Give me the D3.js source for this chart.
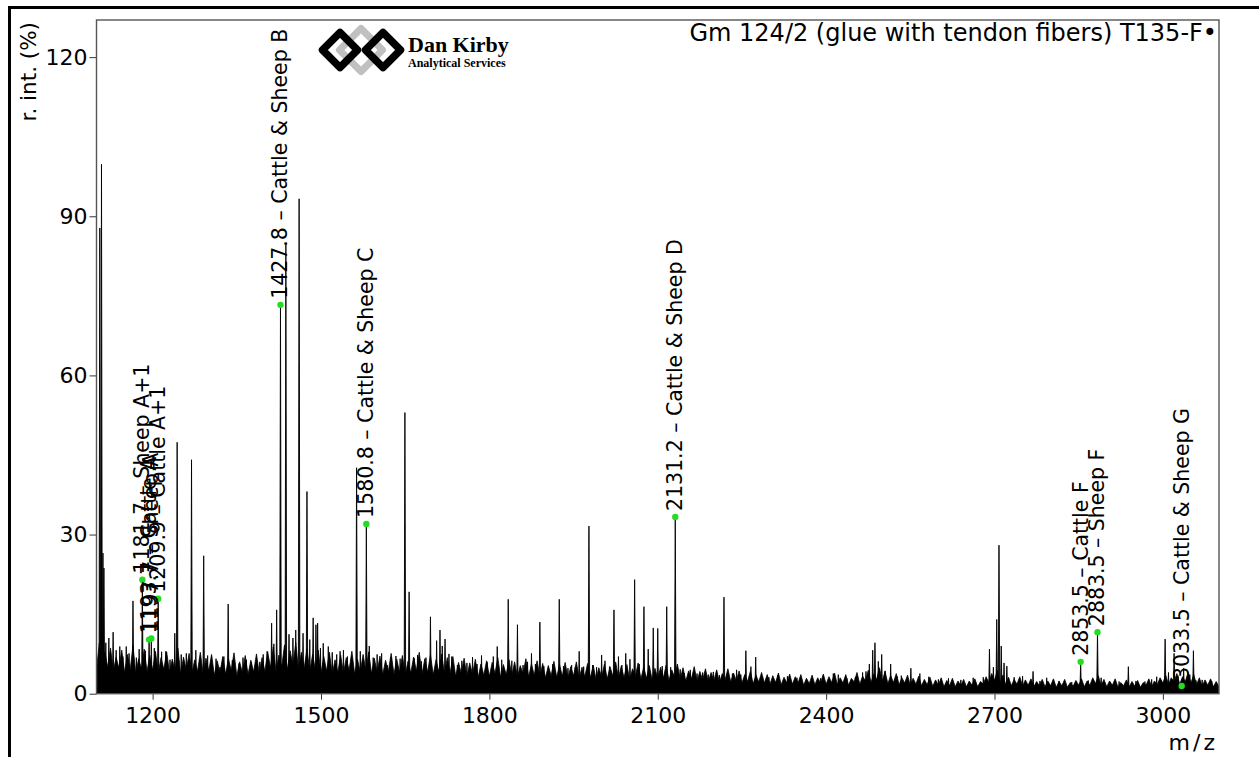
<!DOCTYPE html>
<html>
<head>
<meta charset="utf-8">
<script src="https://cdn.jsdelivr.net/npm/d3@7"></script>
<style>
  body { margin: 0; background: #fff; }
  svg { display: block; font-family: "DejaVu Sans", sans-serif; }
</style>
</head>
<body>
<div id="chart"></div>
<script>
// spectrum: [m/z, relative intensity %]
var peaks = [
    [1105.9, 87.8], [1108.9, 99.8], [1111.5, 26.5], [1113.2, 23.7], [1116.6, 9.6],
    [1122.0, 10.5], [1129.6, 11.6], [1135.0, 8.2], [1141.5, 8.9], [1147.0, 7.0],
    [1153.0, 8.9], [1158.0, 7.6], [1165.0, 17.5], [1171.0, 6.8], [1176.0, 8.4],
    [1181.7, 21.5], [1187.0, 8.1], [1193.7, 10.2], [1197.7, 10.4], [1203.0, 8.6],
    [1209.9, 17.9], [1216.0, 7.9], [1223.5, 8.0], [1231.0, 6.4], [1239.5, 11.4],
    [1243.7, 47.4], [1251.0, 7.4], [1260.0, 7.6], [1269.3, 44.1], [1277.0, 8.2],
    [1284.0, 6.4], [1291.0, 26.0], [1298.0, 7.2], [1305.0, 7.0], [1313.0, 6.6],
    [1320.0, 5.0], [1327.0, 7.0], [1334.6, 16.9], [1342.0, 6.3], [1354.0, 5.7],
    [1361.0, 6.8], [1367.0, 6.4], [1376.0, 5.9], [1385.0, 6.8], [1391.0, 6.0],
    [1397.0, 7.4], [1404.0, 8.0], [1412.0, 13.3], [1416.0, 9.4], [1421.0, 15.8],
    [1427.8, 73.3], [1437.4, 85.0], [1443.0, 11.2], [1450.0, 10.5], [1455.0, 12.0],
    [1461.0, 93.3], [1468.0, 11.4], [1475.0, 38.1], [1480.0, 10.2], [1486.0, 14.3],
    [1491.0, 13.0], [1494.0, 13.3], [1499.0, 8.6], [1504.0, 9.5], [1513.0, 8.9],
    [1520.0, 7.8], [1528.0, 7.4], [1534.0, 8.0], [1540.0, 8.2], [1547.0, 7.0],
    [1554.5, 7.0], [1563.4, 42.6], [1570.0, 8.0], [1580.8, 32.0], [1586.0, 9.0],
    [1593.0, 6.8], [1600.0, 7.4], [1608.0, 7.6], [1618.0, 5.4], [1625.0, 6.9],
    [1633.5, 7.1], [1641.0, 6.6], [1649.5, 53.0], [1657.0, 19.2], [1666.0, 6.7],
    [1672.0, 7.3], [1679.0, 6.1], [1687.0, 6.8], [1695.0, 14.5], [1706.0, 10.0],
    [1712.0, 12.0], [1716.0, 9.0], [1721.0, 10.3], [1728.0, 7.5], [1733.0, 7.0],
    [1743.0, 5.4], [1751.0, 6.2], [1760.0, 5.8], [1770.0, 6.9], [1778.0, 5.6],
    [1786.0, 7.2], [1796.0, 6.0], [1807.0, 7.0], [1814.0, 8.9], [1822.0, 6.4],
    [1833.6, 17.8], [1840.0, 6.2], [1850.0, 13.0], [1860.0, 5.4], [1868.0, 6.0],
    [1875.0, 7.6], [1882.0, 5.6], [1890.0, 13.5], [1897.0, 5.2], [1905.0, 4.3],
    [1913.0, 5.6], [1924.5, 17.8], [1932.0, 5.2], [1940.0, 4.8], [1946.5, 5.4],
    [1953.0, 5.0], [1960.0, 8.0], [1968.0, 5.1], [1977.4, 31.6], [1984.0, 5.4],
    [1991.0, 5.0], [2000.0, 7.3], [2006.0, 6.2], [2014.0, 5.1], [2022.0, 15.8],
    [2030.0, 7.0], [2036.0, 5.4], [2043.0, 7.6], [2050.5, 6.5], [2058.8, 21.5],
    [2067.0, 5.6], [2075.4, 16.4], [2083.0, 8.4], [2092.0, 12.4], [2100.0, 12.3],
    [2108.0, 5.2], [2116.0, 16.4], [2123.0, 5.0], [2131.2, 33.3], [2140.0, 4.6],
    [2147.0, 3.9], [2158.0, 4.5], [2170.0, 3.8], [2180.0, 4.0], [2190.0, 3.6],
    [2199.0, 4.1], [2210.0, 3.5], [2218.0, 18.2], [2226.0, 3.3], [2233.0, 3.8],
    [2240.5, 4.5], [2248.0, 3.6], [2257.0, 8.1], [2266.0, 5.1], [2274.5, 6.9],
    [2285.0, 3.3], [2298.0, 3.1], [2314.0, 3.5], [2331.0, 3.3], [2348.0, 3.0],
    [2365.0, 2.8], [2390.0, 2.9], [2412.8, 3.8], [2421.7, 3.6], [2437.0, 2.9],
    [2452.0, 3.1], [2465.0, 4.0], [2471.0, 4.2], [2477.0, 5.6], [2483.0, 8.2],
    [2487.0, 9.6], [2493.0, 6.1], [2499.0, 7.4], [2505.0, 4.3], [2515.0, 5.6],
    [2527.0, 3.2], [2534.0, 3.4], [2551.0, 4.8], [2567.0, 3.8], [2583.0, 3.2],
    [2600.0, 2.7], [2618.0, 2.9], [2640.0, 2.6], [2662.0, 3.0], [2680.0, 3.1],
    [2691.0, 8.4], [2698.0, 5.0], [2704.0, 14.0], [2708.0, 28.0], [2712.0, 9.0],
    [2717.0, 5.8], [2722.0, 5.2], [2735.0, 3.1], [2750.0, 3.3], [2768.7, 4.2],
    [2781.0, 2.4], [2793.0, 3.0], [2815.0, 2.4], [2837.6, 2.2], [2853.5, 6.0],
    [2867.0, 2.5], [2876.0, 2.6], [2883.5, 11.6], [2890.0, 3.0], [2905.9, 2.1],
    [2922.0, 2.3], [2938.5, 5.1], [2952.0, 2.4], [2968.0, 2.3], [2980.0, 2.7],
    [2989.0, 3.2], [3004.0, 10.3], [3010.0, 4.0], [3020.0, 7.6], [3027.0, 3.4],
    [3037.0, 4.8], [3041.0, 2.3], [3048.0, 3.6], [3054.4, 8.1], [3059.0, 2.5],
    [3070.0, 2.6], [3087.0, 2.4]
];

// noise band: spike tops at 1105, 1115 ... 3095 and floor at 1100, 1110 ... 3100
var noiseStart = 1100;
var noiseStep = 10;
var noiseTop = [
    9.5, 7.8, 8.6, 6.9, 8.2, 7.4, 9.1, 6.6, 8.4, 7.2,
    8.0, 6.8, 7.9, 6.5, 8.6, 6.9, 7.6, 6.4, 7.8, 6.7,
    7.4, 6.2, 7.0, 6.6, 7.7, 6.0, 7.2, 6.3, 7.5, 6.8,
    7.9, 8.8, 7.3, 9.2, 8.1, 9.6, 7.8, 8.5, 7.4, 8.2,
    7.0, 7.8, 6.4, 7.3, 6.8, 8.0, 6.5, 7.4, 7.9, 6.7,
    7.1, 6.3, 7.6, 6.5, 7.2, 6.1, 6.9, 7.8, 6.6, 7.3,
    6.4, 7.5, 6.8, 7.0, 5.9, 6.7, 5.8, 6.5, 5.6, 6.2,
    5.9, 6.8, 5.5, 6.4, 6.0, 5.3, 6.6, 5.6, 6.2, 5.7,
    5.3, 6.1, 5.5, 5.9, 5.1, 6.0, 5.0, 5.7, 5.4, 4.9,
    5.6, 5.1, 6.0, 5.2, 5.5, 4.7, 5.8, 5.0, 5.3, 4.8,
    5.0, 5.4, 4.5, 5.6, 4.9, 4.3, 5.1, 4.2, 4.7, 4.0,
    4.5, 3.8, 4.7, 3.9, 4.3, 3.6, 4.2, 3.5, 4.0, 3.6,
    3.4, 3.9, 3.1, 3.7, 3.2, 3.6, 2.9, 3.5, 3.0, 3.7,
    3.2, 3.9, 3.0, 3.6, 2.9, 4.0, 3.3, 4.4, 3.7, 4.9,
    4.2, 3.4, 3.8, 3.0, 3.5, 2.9, 3.3, 2.7, 3.1, 2.6,
    3.0, 2.5, 2.9, 2.4, 2.7, 2.4, 2.8, 2.3, 3.2, 3.8,
    4.4, 3.5, 3.1, 2.7, 3.2, 2.6, 2.8, 2.3, 2.7, 2.4,
    2.8, 2.3, 2.7, 2.1, 2.5, 2.8, 2.4, 3.0, 3.4, 2.7,
    2.4, 2.8, 2.1, 2.6, 2.3, 2.5, 2.1, 2.8, 2.4, 3.0,
    3.5, 3.0, 3.8, 3.2, 4.0, 3.6, 3.0, 2.6, 2.8, 2.3
];
var noiseFloor = [
    4.6, 4.1, 5.0, 4.3, 4.8, 4.0, 4.5, 3.8, 4.7, 4.2,
    4.4, 3.9, 4.6, 4.0, 4.3, 3.6, 4.5, 3.9, 4.2, 3.7,
    4.3, 3.5, 4.0, 3.7, 4.4, 3.4, 3.9, 3.6, 4.1, 3.8,
    4.2, 4.9, 4.0, 5.1, 4.5, 5.3, 4.4, 4.8, 4.1, 4.5,
    3.9, 4.3, 3.6, 4.0, 3.8, 4.4, 3.7, 4.1, 4.3, 3.8,
    4.0, 3.6, 4.2, 3.7, 4.0, 3.5, 3.9, 4.3, 3.7, 4.1,
    3.6, 4.1, 3.8, 3.9, 3.3, 3.8, 3.2, 3.6, 3.1, 3.5,
    3.3, 3.8, 3.1, 3.6, 3.4, 3.0, 3.7, 3.2, 3.5, 3.2,
    3.0, 3.4, 3.1, 3.3, 2.9, 3.4, 2.8, 3.2, 3.0, 2.7,
    3.1, 2.8, 3.3, 2.9, 3.0, 2.6, 3.2, 2.8, 2.9, 2.6,
    2.8, 3.0, 2.5, 3.1, 2.7, 2.4, 2.8, 2.3, 2.6, 2.2,
    2.5, 2.1, 2.6, 2.2, 2.4, 2.0, 2.3, 1.9, 2.2, 2.0,
    1.8, 2.1, 1.7, 2.0, 1.8, 2.0, 1.6, 1.9, 1.7, 2.0,
    1.8, 2.1, 1.7, 2.0, 1.6, 2.2, 1.8, 2.4, 2.1, 2.7,
    2.4, 1.9, 2.1, 1.7, 2.0, 1.6, 1.8, 1.5, 1.7, 1.4,
    1.6, 1.3, 1.5, 1.3, 1.5, 1.3, 1.6, 1.3, 1.8, 2.1,
    2.5, 2.0, 1.7, 1.5, 1.8, 1.4, 1.6, 1.3, 1.5, 1.3,
    1.5, 1.2, 1.5, 1.2, 1.4, 1.6, 1.3, 1.6, 1.9, 1.5,
    1.3, 1.6, 1.2, 1.5, 1.3, 1.4, 1.2, 1.6, 1.3, 1.7,
    2.0, 1.7, 2.2, 1.8, 2.3, 2.0, 1.7, 1.4, 1.6, 1.3,
    1.3
];

// marker annotations (green dots)
var markers = [
    { mz: 1181.7, ri: 21.5, text: "1181.7 \u2013 Sheep A+1" },
    { mz: 1193.7, ri: 10.2, text: "1193.7 \u2013 Cattle A" },
    { mz: 1197.7, ri: 10.4, text: "1197.7 \u2013 Sheep A" },
    { mz: 1209.9, ri: 17.9, text: "1209.9 \u2013 Cattle A+1" },
    { mz: 1427.8, ri: 73.3, text: "1427.8 \u2013 Cattle & Sheep B" },
    { mz: 1580.8, ri: 32.0, text: "1580.8 \u2013 Cattle & Sheep C" },
    { mz: 2131.2, ri: 33.3, text: "2131.2 \u2013 Cattle & Sheep D" },
    { mz: 2853.5, ri: 6.0, text: "2853.5 \u2013 Cattle F" },
    { mz: 2883.5, ri: 11.6, text: "2883.5 \u2013 Sheep F" },
    { mz: 3033.5, ri: 1.45, text: "3033.5 \u2013 Cattle & Sheep G" }
];

var xTicks = [1200, 1500, 1800, 2100, 2400, 2700, 3000];
var yTicks = [0, 30, 60, 90, 120];
var title = "Gm 124/2 (glue with tendon fibers) T135-F\u2022";

var W = 1259, H = 757;
var margin = { top: 20, right: 40, bottom: 63.3, left: 96.5 };
var width = W - margin.left - margin.right;
var height = H - margin.top - margin.bottom;

var svg = d3.select("#chart").append("svg")
    .attr("width", W)
    .attr("height", H);

// outer frame (runs off the right and bottom of the picture)
svg.append("rect")
    .attr("x", 9.5).attr("y", 7.5)
    .attr("width", 1300).attr("height", 800)
    .attr("fill", "none")
    .attr("stroke", "#000")
    .attr("stroke-width", 3);

var g = svg.append("g")
    .attr("transform", "translate(" + margin.left + "," + margin.top + ")");

var x = d3.scaleLinear().domain([1100, 3100]).range([0, width]);
var y = d3.scaleLinear().domain([0, 127]).range([height, 0]);

g.append("clipPath").attr("id", "plotclip")
    .append("rect").attr("width", width).attr("height", height);

var plot = g.append("g").attr("clip-path", "url(#plotclip)");

// noise band: floor and spike points interleaved along m/z
var noisePts = [];
noiseFloor.forEach(function (v, i) {
    noisePts.push([noiseStart + i * noiseStep, v]);
    if (i < noiseTop.length) {
        noisePts.push([noiseStart + i * noiseStep + noiseStep / 2, noiseTop[i]]);
    }
});

var area = d3.area()
    .x(function (d) { return x(d[0]); })
    .y0(height)
    .y1(function (d) { return y(d[1]); });

plot.append("path")
    .datum(noisePts)
    .attr("d", area)
    .attr("fill", "#000")
    .attr("stroke", "#000")
    .attr("stroke-width", 0.8);

// peaks as thin triangles
var hw = 1.4;
plot.selectAll(".peak")
    .data(peaks)
    .enter().append("path")
    .attr("class", "peak")
    .attr("d", function (d) {
        return "M" + x(d[0] - hw) + "," + y(0) +
            "L" + x(d[0]) + "," + y(d[1]) +
            "L" + x(d[0] + hw) + "," + y(0) + "Z";
    })
    .attr("fill", "#000")
    .attr("stroke", "#000")
    .attr("stroke-width", 0.9);

// axes
var xAxis = g.append("g")
    .attr("transform", "translate(0," + height + ")")
    .call(d3.axisBottom(x).tickValues(xTicks).tickFormat(d3.format("d"))
        .tickSize(6).tickPadding(8));

var yAxis = g.append("g")
    .call(d3.axisLeft(y).tickValues(yTicks).tickFormat(d3.format("d"))
        .tickSize(7).tickPadding(2));

[xAxis, yAxis].forEach(function (a) {
    a.select(".domain").remove();
    a.selectAll("line").attr("stroke", "#333");
    a.selectAll("text")
        .attr("font-family", "DejaVu Sans")
        .attr("font-size", "22px")
        .attr("fill", "#000");
});

// plot frame
g.append("rect")
    .attr("width", width).attr("height", height)
    .attr("fill", "none")
    .attr("stroke", "#555")
    .attr("stroke-width", 1.4);

// markers
g.selectAll(".dot")
    .data(markers)
    .enter().append("circle")
    .attr("class", "dot")
    .attr("cx", function (d) { return x(d.mz); })
    .attr("cy", function (d) { return y(d.ri); })
    .attr("r", 3.2)
    .attr("fill", "#22dd22");

g.selectAll(".mlabel")
    .data(markers)
    .enter().append("text")
    .attr("class", "mlabel")
    .attr("transform", function (d) {
        return "translate(" + x(d.mz) + "," + (y(d.ri) - 6) + ") rotate(-90)";
    })
    .attr("text-anchor", "start")
    .attr("dominant-baseline", "central")
    .attr("font-size", "20.5px")
    .attr("fill", "#000")
    .text(function (d) { return d.text; });

// title, axis labels
svg.append("text")
    .attr("x", 1217).attr("y", 41)
    .attr("text-anchor", "end")
    .attr("font-size", "24px")
    .text(title);

svg.append("text")
    .attr("transform", "translate(36,22) rotate(-90)")
    .attr("text-anchor", "end")
    .attr("font-size", "21.5px")
    .text("r. int. (%)");

svg.append("text")
    .attr("x", 1218).attr("y", 750)
    .attr("text-anchor", "end")
    .attr("font-size", "22px")
    .attr("letter-spacing", "3px")
    .text("m/z");

// logo
var logo = svg.append("g");
function diamond(cx, cy, r) {
    return "M" + (cx - r) + "," + cy + "L" + cx + "," + (cy - r) +
        "L" + (cx + r) + "," + cy + "L" + cx + "," + (cy + r) + "Z";
}
logo.append("path").attr("d", diamond(361, 50, 21.5))
    .attr("fill", "none").attr("stroke", "#c0c0c0")
    .attr("stroke-width", 7).attr("stroke-linejoin", "round");
logo.append("path").attr("d", diamond(340, 50, 17.5))
    .attr("fill", "none").attr("stroke", "#000")
    .attr("stroke-width", 7.5).attr("stroke-linejoin", "round");
logo.append("path").attr("d", diamond(383, 50, 17.5))
    .attr("fill", "none").attr("stroke", "#000")
    .attr("stroke-width", 7.5).attr("stroke-linejoin", "round");
logo.append("text")
    .attr("x", 408).attr("y", 52)
    .attr("font-family", "Liberation Serif")
    .attr("font-weight", "bold")
    .attr("font-size", "22px")
    .text("Dan Kirby");
logo.append("text")
    .attr("x", 408).attr("y", 67)
    .attr("font-family", "Liberation Serif")
    .attr("font-weight", "bold")
    .attr("font-size", "12px")
    .text("Analytical Services");
</script>
</body>
</html>
